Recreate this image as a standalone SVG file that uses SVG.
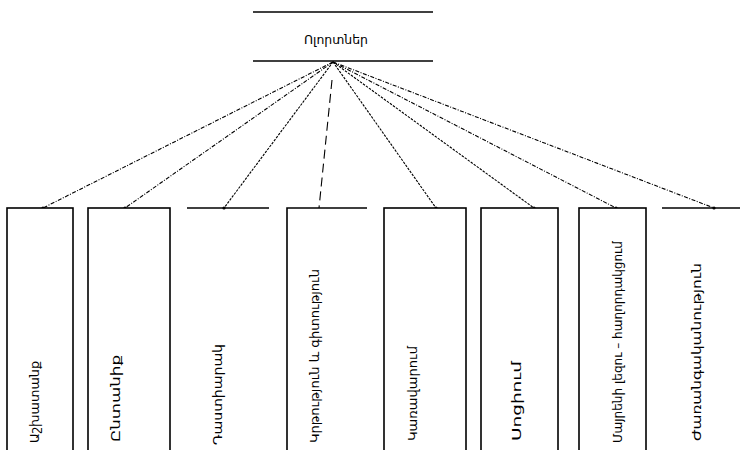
<svg xmlns="http://www.w3.org/2000/svg" width="740" height="450" viewBox="0 0 740 450">
<style>
.ln{stroke:#000;stroke-width:1.6;fill:none}
.bx{stroke:#000;stroke-width:1.6;fill:#fff}
.t{font-family:"DejaVu Sans Condensed","DejaVu Sans",sans-serif;font-size:13px;fill:#000}
.c{stroke:#000;stroke-width:1.1;fill:none;stroke-dasharray:4 1.5 1 1.5}
.d{stroke:#000;stroke-width:1.1;fill:none;stroke-dasharray:2.5 1.2}
.e{stroke:#000;stroke-width:1.1;fill:none;stroke-dasharray:9 5}
</style>
<defs>
<marker id="dot" viewBox="0 0 4 4" refX="2" refY="2" markerWidth="4" markerHeight="4" markerUnits="userSpaceOnUse"><circle cx="2" cy="2" r="1.6" fill="#000"/></marker>
</defs>
<rect width="740" height="450" fill="#fff"/>
<g id="connectors">
<line class="c" x1="333" y1="62" x2="43" y2="208" marker-end="url(#dot)"/>
<line class="c" x1="333" y1="62" x2="125" y2="208" marker-end="url(#dot)"/>
<line class="d" x1="333" y1="62" x2="224" y2="208" marker-end="url(#dot)"/>
<line class="e" x1="332" y1="80" x2="319" y2="208"/>
<line class="d" x1="333" y1="62" x2="436" y2="208" marker-end="url(#dot)"/>
<line class="d" x1="333" y1="62" x2="534" y2="208" marker-end="url(#dot)"/>
<line class="c" x1="333" y1="62" x2="616" y2="208" marker-end="url(#dot)"/>
<line class="c" x1="333" y1="62" x2="714" y2="208" marker-end="url(#dot)"/>
</g>
<g id="n0">
<line class="ln" x1="253" y1="12" x2="433" y2="12"/>
<line class="ln" x1="253" y1="61" x2="433" y2="61"/>
<text class="t" x="336" y="44" text-anchor="middle" font-size="14" textLength="64" lengthAdjust="spacingAndGlyphs">Ոլորտներ</text>
</g>
<g id="n1">
<rect class="bx" x="7" y="208" width="66" height="260"/>
<text class="t" x="39" y="443" transform="rotate(-90 39 443)" textLength="82" lengthAdjust="spacingAndGlyphs">Աշխատանք</text>
</g>
<g id="n2">
<rect class="bx" x="88" y="208" width="82" height="260"/>
<text class="t" x="120" y="442" transform="rotate(-90 120 442)" textLength="87" lengthAdjust="spacingAndGlyphs">Ընտանիք</text>
</g>
<g id="n3">
<line class="ln" x1="187" y1="208" x2="269" y2="208"/>
<text class="t" x="222" y="445" transform="rotate(-90 222 445)" textLength="101" lengthAdjust="spacingAndGlyphs">Դաստիարակ</text>
</g>
<g id="n4">
<path class="ln" d="M287,460 V208 H367"/>
<text class="t" x="319" y="443" transform="rotate(-90 319 443)" textLength="174" lengthAdjust="spacingAndGlyphs">Կրթություն և գիտություն</text>
</g>
<g id="n5">
<rect class="bx" x="384" y="208" width="82" height="260"/>
<text class="t" x="417" y="441" transform="rotate(-90 417 441)" textLength="95" lengthAdjust="spacingAndGlyphs">Կառավարում</text>
</g>
<g id="n6">
<rect class="bx" x="481" y="208" width="77" height="260"/>
<text class="t" x="521" y="441" transform="rotate(-90 521 441)" textLength="80" lengthAdjust="spacingAndGlyphs">Սոցիում</text>
</g>
<g id="n7">
<rect class="bx" x="579" y="208" width="67" height="260"/>
<text class="t" x="622" y="443" transform="rotate(-90 622 443)" textLength="202" lengthAdjust="spacingAndGlyphs">Մայրենի լեզու – հաղորդակցում</text>
</g>
<g id="n8">
<line class="ln" x1="662" y1="208" x2="740" y2="208"/>
<text class="t" x="701" y="441" transform="rotate(-90 701 441)" textLength="178" lengthAdjust="spacingAndGlyphs">Ժառանգականություն</text>
</g>
</svg>
